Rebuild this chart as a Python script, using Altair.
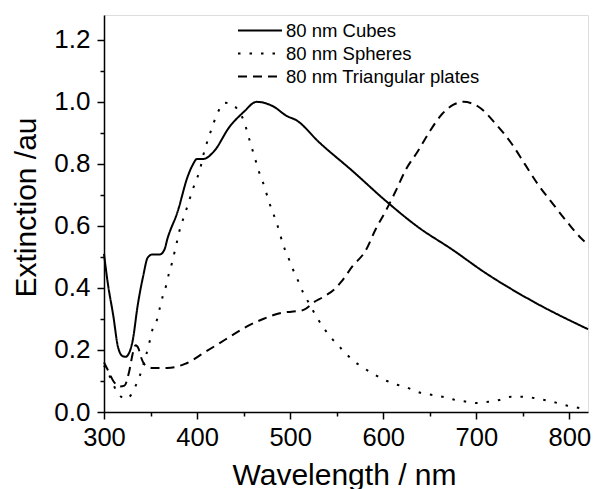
import altair as alt
import pandas as pd

# ---- data ----
cubes_x = [300, 304, 310, 315, 320, 323, 326, 331, 336, 342, 347, 352, 360, 365, 368, 379, 390, 395, 400, 407,
           418, 435, 450, 464, 482, 496, 507, 531, 567, 603, 638, 674, 709, 763, 820]
cubes_y = [0.51, 0.417, 0.31, 0.21, 0.18, 0.178, 0.185, 0.233, 0.34, 0.437, 0.498, 0.508, 0.508, 0.524, 0.557,
           0.645, 0.76, 0.795, 0.816, 0.816, 0.84, 0.92, 0.967, 1.0, 0.985, 0.955, 0.94, 0.87, 0.777, 0.68, 0.595,
           0.524, 0.45, 0.353, 0.267]

spheres_x = [300, 307, 313, 318, 324, 329, 333, 338, 344, 349, 352, 357, 360, 363, 367, 370, 373, 376, 379, 382,
             386, 390, 394, 398, 403, 406, 409, 413, 417, 422, 430, 436, 443, 450, 457, 462, 467, 472, 477, 481,
             486, 493, 498, 503, 509, 514, 520, 527, 535, 544, 555, 567, 579, 591, 604, 616, 627, 640, 653, 665,
             677, 690, 701, 713, 725, 738, 749, 762, 773, 787, 798, 811, 818]
spheres_y = [0.15, 0.11, 0.07, 0.05, 0.042, 0.055, 0.078, 0.113, 0.17, 0.227, 0.265, 0.298, 0.336, 0.372, 0.41,
             0.45, 0.48, 0.518, 0.557, 0.595, 0.63, 0.667, 0.705, 0.74, 0.78, 0.82, 0.853, 0.89, 0.925, 0.964,
             0.997, 0.995, 0.977, 0.94, 0.87, 0.82, 0.77, 0.73, 0.68, 0.647, 0.605, 0.535, 0.498, 0.46, 0.42,
             0.385, 0.352, 0.314, 0.275, 0.24, 0.204, 0.168, 0.142, 0.12, 0.10, 0.087, 0.077, 0.062, 0.055,
             0.048, 0.039, 0.033, 0.029, 0.033, 0.039, 0.049, 0.049, 0.045, 0.039, 0.029, 0.02, 0.013, 0.008]

plates_x = [300, 305, 310, 317, 322, 327, 331, 334, 337, 340, 344, 352, 368, 387, 409, 430, 450, 471, 491, 507,
            515, 526, 535, 549, 555, 567, 581, 592, 603, 613, 624, 637, 649, 663, 675, 686, 702, 722, 738, 752,
            766, 781, 797, 814, 820]
plates_y = [0.16, 0.13, 0.10, 0.082, 0.085, 0.13, 0.19, 0.215, 0.205, 0.175, 0.152, 0.142, 0.142, 0.155, 0.194,
            0.233, 0.27, 0.30, 0.32, 0.325, 0.33, 0.355, 0.37, 0.40, 0.42, 0.47, 0.52, 0.59, 0.65, 0.71, 0.78,
            0.84, 0.90, 0.96, 0.99, 1.0, 0.985, 0.925, 0.865, 0.80, 0.735, 0.676, 0.615, 0.556, 0.54]

series_names = ["80 nm Cubes", "80 nm Spheres", "80 nm Triangular plates"]
x_ticks = [300, 350, 400, 450, 500, 550, 600, 650, 700, 750, 800]
y_ticks = [0.0, 0.1, 0.2, 0.3, 0.4, 0.5, 0.6, 0.7, 0.8, 0.9, 1.0, 1.1, 1.2]

frames = []
for name, xs, ys in zip(series_names, [cubes_x, spheres_x, plates_x], [cubes_y, spheres_y, plates_y]):
    frames.append(pd.DataFrame({"wl": xs, "ext": ys, "series": name}))
df = pd.concat(frames, ignore_index=True)

FONT = "Liberation Sans"

x_axis = alt.Axis(
    values=x_ticks,
    labelExpr="datum.value % 100 == 0 ? datum.label : ''",
    tickSize={"condition": {"test": "datum.value % 100 == 0", "value": 7}, "value": 4},
    tickWidth=1.5, tickColor="black",
    domainColor="black", domainWidth=1.5,
    grid=False, labelFlush=False, labelOverlap=False,
    labelFont=FONT, labelFontSize=25.5, labelColor="black", labelPadding=6,
    title="Wavelength / nm", titleFont=FONT, titleFontSize=30, titleFontWeight="normal",
    titleColor="black", titleX=240, titleY=72, titleBaseline="alphabetic", titleAlign="center",
)
y_axis = alt.Axis(
    values=y_ticks, format=".1f",
    labelExpr="round(datum.value * 10) % 2 == 0 ? datum.label : ''",
    tickSize={"condition": {"test": "round(datum.value * 10) % 2 == 0", "value": 7}, "value": 4},
    tickWidth=1.5, tickColor="black",
    domainColor="black", domainWidth=1.5,
    grid=False, labelFlush=False, labelOverlap=False,
    labelFont=FONT, labelFontSize=26, labelColor="black", labelPadding=7,
    title="Extinction /au", titleFont=FONT, titleFontSize=30, titleFontWeight="normal",
    titleColor="black", titleX=-69, titleY=192, titleBaseline="alphabetic", titleAlign="center",
    titleAngle=270,
)

legend = alt.Legend(
    orient="none", legendX=133, legendY=6, title=None,
    symbolType="stroke", symbolSize=1936, symbolStrokeWidth=2, symbolStrokeColor="black",
    labelFont=FONT, labelFontSize=18.5, labelColor="black", labelOffset=3, labelLimit=0,
    clipHeight=19, rowPadding=4, padding=0,
)

chart = alt.Chart(df).mark_line(color="black", strokeWidth=2, interpolate="monotone").encode(
    x=alt.X("wl:Q", scale=alt.Scale(domain=[300, 820], nice=False, zero=False), axis=x_axis),
    y=alt.Y("ext:Q", scale=alt.Scale(domain=[0, 1.28], nice=False), axis=y_axis),
    strokeDash=alt.StrokeDash(
        "series:N",
        scale=alt.Scale(domain=series_names, range=[[1, 0], [2.5, 9], [9, 6]]),
        legend=legend,
    ),
    detail="series:N",
).properties(
    width=484, height=397,
    autosize=alt.AutoSizeParams(type="none"),
    padding={"left": 96, "top": 7, "right": 4, "bottom": 77},
).configure_view(stroke=None).configure(background="white")

chart.save("out.html", embed_options={"renderer": "svg", "actions": False})
